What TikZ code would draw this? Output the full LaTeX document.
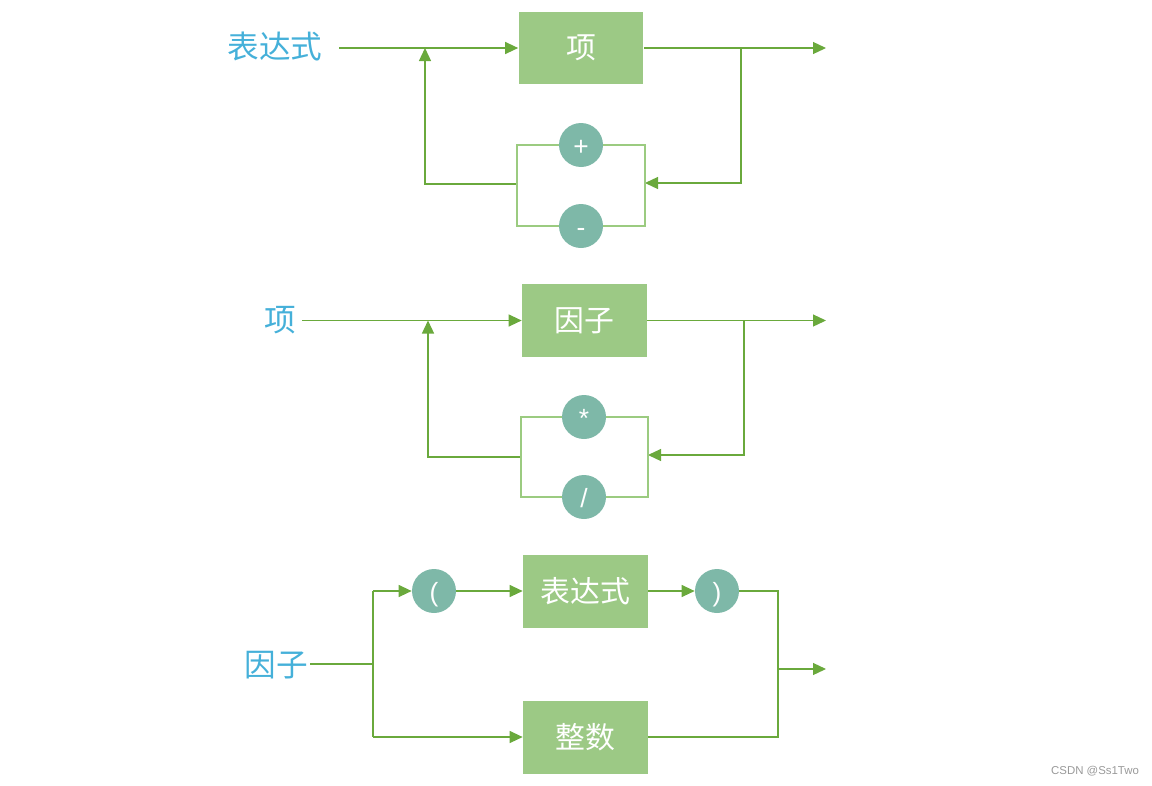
\documentclass[tikz,border=0pt]{standalone}
\usepackage{fontspec}
\newfontfamily\cjk{Noto Sans CJK SC}
\newfontfamily\wmfont{Liberation Sans}
\usetikzlibrary{arrows.meta}
\definecolor{lblue}{HTML}{45B0D9}
\definecolor{boxgreen}{HTML}{9CC985}
\definecolor{opteal}{HTML}{7EB8A8}
\definecolor{dgreen}{HTML}{6AA93C}
\definecolor{lgreen}{HTML}{9BCB80}
\tikzset{
  lbl/.style={font=\cjk\fontsize{18}{20}\selectfont, text=lblue, inner sep=0},
  stepbox/.style={rectangle, fill=boxgreen, minimum width=2.5cm, minimum height=1.46cm, inner sep=0, text=white, font=\cjk\fontsize{17}{20}\selectfont},
  op/.style={circle, fill=opteal, minimum size=0.88cm, inner sep=0, text=white, font=\wmfont\fontsize{15}{18}\selectfont, text height=11.5pt, text depth=0pt},
  arr/.style={draw=dgreen, line width=0.7pt, -{Triangle[length=0.26cm,width=0.24cm]}, color=dgreen},
  ln/.style={draw=dgreen, line width=0.7pt},
  lp/.style={draw=lgreen, line width=0.8pt},
}
\begin{document}
\begin{tikzpicture}[x=0.02cm,y=-0.02cm]
\useasboundingbox (0,0) rectangle (1152,785);

% ---------- Section 1: 表达式 ----------
\node[lbl] (e1) at (275,47) {表达式};
\node[stepbox] (t1) at (581,48) {项};
\node[op] (plus) at (581,145) {+};
\node[op] (minus) at (581,226) {-};
\coordinate (s1) at (339,48);
\coordinate (j1) at (425,48);
\coordinate (b1) at (425,184);
\coordinate (o1) at (826,48);
\coordinate (r1) at (741,48);
\coordinate (rb1) at (741,183);
\coordinate (ll1) at (517,184);
\coordinate (rr1) at (645,183);
\coordinate (lt1) at (517,145);
\coordinate (lb1) at (517,226);
\coordinate (rt1) at (645,145);
\coordinate (rbt1) at (645,226);

\draw[arr] (s1) -- (t1.west);
\draw[arr] (ll1) -- (b1) -- (j1);
\draw[arr] (t1.east) -- (o1);
\draw[arr] (r1) -- (rb1) -- (rr1);
\draw[lp] (plus.west) -- (lt1) -- (lb1) -- (minus.west);
\draw[lp] (plus.east) -- (rt1) -- (rbt1) -- (minus.east);

% ---------- Section 2: 项 ----------
\node[lbl] (e2) at (280,320) {项};
\node[stepbox] (t2) at (584.5,320.5) {因子};
\node[op] (mul) at (584,417) {*};
\node[op] (div) at (584,497) {/};
\coordinate (s2) at (302,320.5);
\coordinate (j2) at (428,320.5);
\coordinate (b2) at (428,457);
\coordinate (o2) at (826,320.5);
\coordinate (r2) at (744,320.5);
\coordinate (rb2) at (744,455);
\coordinate (ll2) at (521,457);
\coordinate (rr2) at (648,455);
\coordinate (lt2) at (521,417);
\coordinate (lb2) at (521,497);
\coordinate (rt2) at (648,417);
\coordinate (rbt2) at (648,497);

\draw[arr] (s2) -- (t2.west);
\draw[arr] (ll2) -- (b2) -- (j2);
\draw[arr] (t2.east) -- (o2);
\draw[arr] (r2) -- (rb2) -- (rr2);
\draw[lp] (mul.west) -- (lt2) -- (lb2) -- (div.west);
\draw[lp] (mul.east) -- (rt2) -- (rbt2) -- (div.east);

% ---------- Section 3: 因子 ----------
\node[lbl] (e3) at (276,665) {因子};
\node[op] (lpar) at (434,591) {(};
\node[stepbox] (t3) at (585.5,591) {表达式};
\node[op] (rpar) at (717,591) {)};
\node[stepbox] (t4) at (585.5,737) {整数};
\coordinate (s3) at (310,664);
\coordinate (f3) at (373,664);
\coordinate (ft3) at (373,591);
\coordinate (fb3) at (373,737);
\coordinate (m3) at (778,591);
\coordinate (mb3) at (778,737);
\coordinate (mo3) at (778,669);
\coordinate (o3) at (826,669);

\draw[ln] (s3) -- (f3);
\draw[ln] (ft3) -- (fb3);
\draw[arr] (ft3) -- (lpar.west);
\draw[arr] (lpar.east) -- (t3.west);
\draw[arr] (t3.east) -- (rpar.west);
\draw[ln] (rpar.east) -- (m3) -- (mb3) -- (t4.east);
\draw[arr] (fb3) -- (t4.west);
\draw[arr] (mo3) -- (o3);

% watermark
\node[font=\wmfont\fontsize{6.5}{8}\selectfont, text=gray!80, inner sep=0] (wm) at (1095,771) {CSDN @Ss1Two};
\end{tikzpicture}
\end{document}
